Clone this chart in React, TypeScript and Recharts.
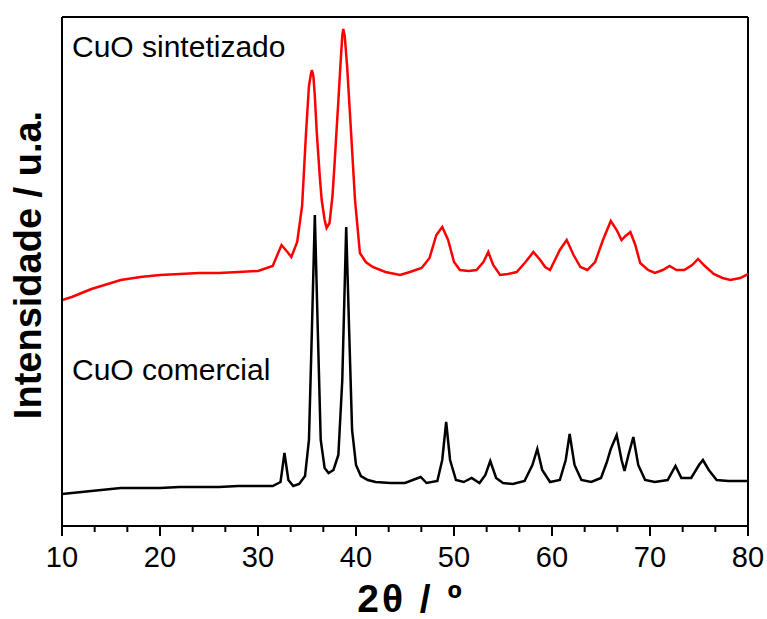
import { LineChart, Line, XAxis, YAxis, ReferenceLine } from "recharts"

// 2θ tick labels
const majorTicks = [10, 20, 30, 40, 50, 60, 70, 80]
const minorTicks = majorTicks.slice(0, -1).flatMap((t) => [t + 10 / 3, t + 20 / 3])
const allTicks = [...majorTicks, ...minorTicks].sort((a, b) => a - b)

// CuO sintetizado (red), 2θ and intensity (a.u.)
const sintetizadoTheta = [
  10, 11, 12, 13, 14, 15, 16, 18, 20, 22, 24, 26, 28, 30, 31.5, 32.4, 33.0, 33.4, 34.0, 34.5,
  34.9, 35.2, 35.4, 35.5, 35.65, 35.8, 36.0, 36.3, 36.5, 36.8, 37.0, 37.3, 37.6, 37.8, 38.0, 38.2,
  38.4, 38.6, 38.7, 38.85, 39.1, 39.5, 39.9, 40.4, 41.0, 41.7, 43, 44.5, 45.5, 46.7, 47.5, 48.2,
  48.8, 49.4, 50.0, 50.6, 51.5, 52.3, 53.0, 53.5, 54.0, 54.7, 55.5, 56.4, 57.3, 58.1, 58.8, 59.3,
  59.8, 60.2, 60.8, 61.5, 62.2, 62.9, 63.6, 64.4, 65.2, 66.0, 66.6, 67.1, 67.5, 68.0, 68.5, 69.0,
  69.8, 70.5, 71.3, 72.0, 72.7, 73.5, 74.3, 74.9, 75.6, 76.5, 77.4, 78.2, 79.2, 80,
]
const sintetizadoInt = [
  226, 229, 233, 237, 240, 243, 246, 249, 251, 252, 253, 253, 254, 255, 260, 281, 274, 269, 284, 320,
  393, 440, 452, 456, 450, 430, 393, 350, 326, 306, 298, 303, 330, 360, 393, 425,
  459, 490, 497, 490, 459, 393, 326, 273, 264, 259, 254, 251, 254, 258, 268, 291,
  299, 286, 264, 256, 255, 256, 264, 274, 261, 251, 252, 254, 264, 274, 266, 259,
  256, 264, 276, 286, 271, 259, 256, 264, 286, 305, 296, 286, 290, 294, 281, 263,
  256, 253, 256, 260, 256, 256, 261, 267, 260, 252, 248, 246, 248, 252,
]

// CuO comercial (black)
const comercialTheta = [
  10, 12, 14, 16, 18, 20, 22, 24, 26, 28, 30, 31.5, 32.3, 32.7, 33.1, 33.6, 34.2, 34.8, 35.2, 35.5,
  35.8, 36.1, 36.4, 36.8, 37.2, 37.7, 38.2, 38.6, 39.0, 39.3, 39.6, 40.0, 40.5, 41.2, 42, 43.5,
  45, 46.6, 47.2, 48.3, 48.8, 49.2, 49.6, 50.2, 51, 51.8, 52.6, 53.2, 53.7, 54.3, 55, 56,
  57.2, 58.0, 58.5, 59.0, 59.8, 60.8, 61.4, 61.8, 62.3, 63.0, 64.0, 65.0, 65.6, 66.0, 66.6, 67.1,
  67.4, 67.8, 68.3, 68.8, 69.5, 70.5, 71.8, 72.6, 73.2, 74.2, 75.0, 75.4, 76.0, 76.8, 78, 80,
]
const comercialInt = [
  32, 34, 36, 38, 38, 38, 39, 39, 39, 40, 40, 40, 44, 73, 46, 40, 42, 50, 86, 196,
  311, 196, 86, 58, 53, 56, 71, 146, 299, 196, 96, 61, 50, 46, 44, 43,
  43, 49, 43, 45, 66, 104, 66, 46, 44, 48, 43, 51, 65, 48, 43, 42,
  45, 61, 77, 56, 44, 46, 66, 92, 61, 46, 44, 48, 64, 77, 91, 66,
  55, 71, 89, 61, 46, 44, 46, 60, 48, 48, 61, 66, 56, 46, 45, 45,
]

const sintetizado = sintetizadoTheta.map((x, i) => ({ x, y: sintetizadoInt[i] }))
const comercial = comercialTheta.map((x, i) => ({ x, y: comercialInt[i] }))

const FONT = "'Liberation Sans', Arial, sans-serif"

function AxisTick(props: any) {
  const { x, y, payload } = props
  const major = majorTicks.includes(payload.value)
  return (
    <g>
      <line x1={x} x2={x} y1={y} y2={y + (major ? 10 : 6)} stroke="#000" strokeWidth={2} />
      {major && (
        <text x={x} y={y + 41} textAnchor="middle" fontSize={29} fontFamily={FONT} fill="#000">
          {payload.value}
        </text>
      )}
    </g>
  )
}

export default function App() {
  return (
    <div style={{ position: "absolute", left: 0, top: 0, background: "#fff" }}>
      <LineChart width={767} height={619} margin={{ top: 17, right: 19, bottom: 0, left: 0 }}>
        <XAxis
          type="number"
          dataKey="x"
          domain={[10, 80]}
          ticks={allTicks}
          interval={0}
          tick={<AxisTick />}
          tickLine={false}
          tickSize={0}
          tickMargin={0}
          height={93}
          axisLine={{ stroke: "#000", strokeWidth: 2 }}
          allowDataOverflow
        />
        <YAxis
          type="number"
          domain={[0, 509]}
          width={62}
          tick={false}
          tickLine={false}
          axisLine={{ stroke: "#000", strokeWidth: 2 }}
          allowDataOverflow
        />
        <ReferenceLine y={509} stroke="#000" strokeWidth={2} />
        <ReferenceLine x={80} stroke="#000" strokeWidth={2} />
        <Line
          data={sintetizado}
          dataKey="y"
          type="linear"
          stroke="#ff0000"
          strokeWidth={2.5}
          dot={false}
          isAnimationActive={false}
        />
        <Line
          data={comercial}
          dataKey="y"
          type="linear"
          stroke="#000"
          strokeWidth={2.5}
          dot={false}
          isAnimationActive={false}
        />
        <text x={72} y={57} fontSize={30} fontFamily={FONT} fill="#000">
          CuO sintetizado
        </text>
        <text x={72} y={380} fontSize={30} fontFamily={FONT} fill="#000">
          CuO comercial
        </text>
        <text
          x={41}
          y={265}
          transform="rotate(-90 41 265)"
          textAnchor="middle"
          fontSize={38}
          fontWeight="bold"
          fontFamily={FONT}
          fill="#000"
        >
          Intensidade / u.a.
        </text>
        <text
          x={411}
          y={612}
          textAnchor="middle"
          fontSize={39}
          fontWeight="bold"
          fontFamily={FONT}
          letterSpacing={3}
          fill="#000"
        >
          2θ / º
        </text>
      </LineChart>
    </div>
  )
}
